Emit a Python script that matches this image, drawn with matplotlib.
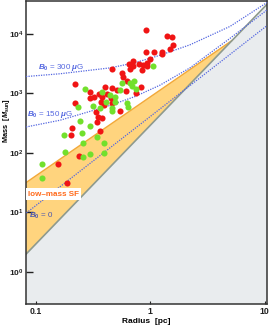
import numpy as np
import matplotlib
matplotlib.use("Agg")
import matplotlib.pyplot as plt
from matplotlib.ticker import NullLocator, FixedLocator

plt.rcParams['font.family'] = ['Liberation Sans', 'DejaVu Sans']
plt.rcParams['mathtext.fontset'] = 'custom'
plt.rcParams['mathtext.rm'] = 'Liberation Sans:bold'
plt.rcParams['mathtext.it'] = 'Liberation Sans:italic:bold'
plt.rcParams['mathtext.bf'] = 'Liberation Sans:bold'

# ---- data: red clumps (radius pc, mass Msun)
red_R = [0.923, 1.40, 1.54, 1.60, 1.50, 0.923, 1.09, 1.26, 1.27, 1.00, 0.936, 0.874,
         0.715, 0.659, 0.715, 0.806, 0.669, 0.846, 0.932, 0.463, 0.566, 0.584, 0.626,
         0.512, 0.617, 0.834, 0.466, 0.456, 0.470, 0.547, 0.750, 0.221, 0.299, 0.324,
         0.355, 0.381, 0.405, 0.421, 0.299, 0.373, 0.396, 0.221, 0.338, 0.354, 0.379,
         0.342, 0.210, 0.206, 0.366, 0.241, 0.158, 0.190]
red_M = [11700, 9120, 8830, 6640, 5570, 5060, 4940, 5060, 4590, 3770, 3300, 3020,
         3570, 3140, 2900, 3100, 2550, 2490, 2850, 2550, 2190, 1870, 1640,
         1150, 1120, 1300, 1240, 840, 692, 508, 1010, 1445, 1040, 890,
         970, 873, 1300, 962, 830, 719, 640, 679, 494, 410, 394,
         335, 258, 204, 234, 90, 64, 30.8]

# ---- data: green clumps
green_R = [1.06, 0.566, 0.669, 0.725, 0.692, 0.755, 0.495, 0.626, 0.646, 0.463, 0.466,
           0.495, 0.547, 0.447, 0.273, 0.379, 0.320, 0.237, 0.366, 0.413, 0.245, 0.253,
           0.178, 0.299, 0.342, 0.258, 0.393, 0.396, 0.181, 0.262, 0.299, 0.114, 0.113]
green_M = [2940, 1530, 1490, 1620, 1350, 1180, 883, 684, 586, 564, 498,
           728, 1150, 944, 1170, 1070, 616, 593, 577, 728, 344, 219,
           204, 284, 185, 145, 144, 97.7, 105, 85.3, 94, 65, 37.4]

# ---- model curves
b300_R = [0.0826, 0.164, 0.448, 0.74, 1.22, 2.23, 5.0, 10.5]
b300_M = [1930, 2150, 2700, 3300, 4400, 6600, 13500, 34000]
b150_R = [0.0826, 0.164, 0.448, 0.74, 1.22, 2.23, 5.0, 10.5]
b150_M = [273, 355, 630, 890, 1380, 2700, 8500, 25500]
b0_R = [0.08, 11.0]
b0_M = [9.2, 14900]
# threshold lines
thr_R = [0.08, 11.0]          # gray line (lower edge of low-mass SF band)
thr_M = [1.85, 34900]
lm_R = [0.08, 5.20]           # upper edge of low-mass SF band
lm_M = [30.3, 7820]

xlim = (0.0826, 10.5)
ylim = (0.286, 36100)

fig = plt.figure(figsize=(2.69, 3.28), dpi=100)
ax = fig.add_axes([0.0967, 0.0732, 0.8959, 0.9238])
ax.set_xscale('log')
ax.set_yscale('log')
ax.set_xlim(*xlim)
ax.set_ylim(*ylim)

# gray region below threshold line
ax.fill([thr_R[0], thr_R[0], thr_R[1], thr_R[1]],
        [ylim[0] * 0.5, thr_M[0], thr_M[1], ylim[0] * 0.5],
        color='#e9ecee', zorder=1, lw=0)
# yellow band (triangle)
ax.fill([lm_R[0], lm_R[0], lm_R[1]], [thr_M[0], lm_M[0], lm_M[1]],
        color='#ffd47e', zorder=1, lw=0)
ax.plot(lm_R, lm_M, color='#f2a93a', lw=1.0, zorder=2)
ax.plot(thr_R, thr_M, color='#8e9a8e', lw=1.2, zorder=2)

blue = '#5366e0'
ls = (0, (1, 1))
ax.plot(b300_R, b300_M, color=blue, lw=0.9, ls=ls, zorder=3)
ax.plot(b150_R, b150_M, color=blue, lw=0.9, ls=ls, zorder=3)
ax.plot(b0_R, b0_M, color=blue, lw=0.9, ls=ls, zorder=3)

ax.plot(red_R, red_M, 'o', color='#f01414', ms=4.4, mew=0, zorder=4)
ax.plot(green_R, green_M, 'o', color='#72e02c', ms=4.4, mew=0, zorder=4)

ax.text(0.105, 2790, r'$B_0$ = 300 $\mu$G', color=blue, fontsize=5.8,
        ha='left', va='center', zorder=5)
ax.text(0.0845, 435, r'$B_0$ = 150 $\mu$G', color=blue, fontsize=5.8,
        ha='left', va='center', zorder=5)
ax.text(0.088, 8.77, r'$B_0$ = 0', color='#4b57b0', fontsize=5.8,
        ha='left', va='center', zorder=5)
ax.text(0.1436, 20.3, 'low\u2013mass SF', color='#ff6a1a', fontsize=5.8,
        fontweight='bold', ha='center', va='center', zorder=5,
        bbox=dict(facecolor='white', edgecolor='none', pad=1.5))

ax.xaxis.set_major_locator(FixedLocator([0.1, 1, 10]))
ax.set_xticklabels(['0.1', '1', '10'])
ax.yaxis.set_major_locator(FixedLocator([1, 10, 100, 1000, 10000]))
ax.xaxis.set_minor_locator(NullLocator())
ax.yaxis.set_minor_locator(NullLocator())
ax.tick_params(axis='y', direction='in', length=5, width=1.0, pad=2.0,
               labelsize=6.0, colors='#222222')
ax.tick_params(axis='x', direction='in', length=2.5, width=0.8, pad=2.2,
               labelsize=6.3, colors='#222222')
for lab in ax.get_xticklabels() + ax.get_yticklabels():
    lab.set_fontweight('bold')
for sp in ax.spines.values():
    sp.set_linewidth(1.1)
    sp.set_color('#333333')

ax.set_xlabel('Radius  [pc]', fontsize=6, fontweight='bold')
ax.set_ylabel(r'Mass  [$M_{\rm sun}$]', fontsize=5.3, fontweight='bold')
ax.xaxis.set_label_coords(0.5, -0.045)
ax.yaxis.set_label_coords(-0.058, 0.604)

fig.savefig('out.png', dpi=100)
